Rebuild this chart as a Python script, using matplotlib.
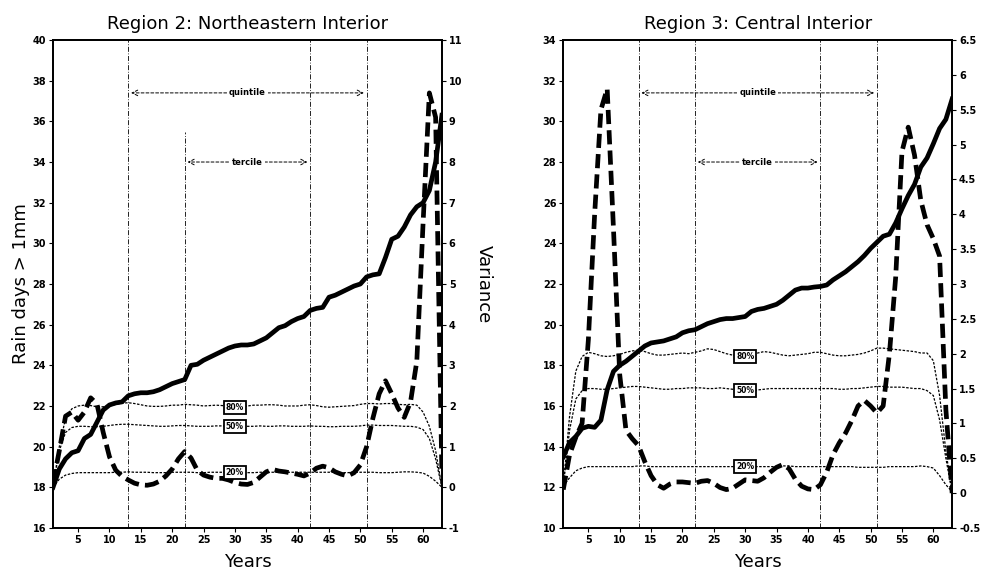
import numpy as np
import matplotlib.pyplot as plt
from matplotlib.ticker import FuncFormatter

# years of record
years = np.arange(1, 64)

# Region 2: Northeastern Interior
r2_days = [18.0, 18.9, 19.4, 19.7, 19.8, 20.4, 20.6, 21.2, 21.8, 22.05,
           22.15, 22.2, 22.5, 22.6, 22.65, 22.65, 22.7, 22.8, 22.95, 23.1,
           23.2, 23.3, 24.0, 24.05, 24.25, 24.4, 24.55, 24.7, 24.85, 24.95,
           25.0, 25.0, 25.05, 25.2, 25.35, 25.6, 25.85, 25.95, 26.15, 26.3,
           26.4, 26.7, 26.8, 26.85, 27.35, 27.45, 27.6, 27.75, 27.9, 28.0,
           28.35, 28.45, 28.5, 29.3, 30.2, 30.35, 30.8, 31.4, 31.8, 32.0,
           32.6, 34.0, 36.3]
r2_var = [0.1, 0.9, 1.75, 1.85, 1.65, 1.85, 2.2, 2.05, 1.35, 0.75,
          0.42, 0.27, 0.18, 0.1, 0.06, 0.05, 0.08, 0.15, 0.28, 0.45,
          0.7, 0.88, 0.72, 0.42, 0.3, 0.25, 0.22, 0.22, 0.18, 0.12,
          0.08, 0.07, 0.12, 0.25, 0.38, 0.44, 0.4, 0.38, 0.35, 0.32,
          0.28, 0.35, 0.47, 0.52, 0.48, 0.38, 0.32, 0.28, 0.36, 0.55,
          1.0, 1.7, 2.3, 2.62, 2.3, 1.95, 1.72, 2.1, 3.1, 6.5,
          9.7, 9.1, 0.3]
r2_p80 = [0.0, 1.0, 1.7, 1.93, 2.0, 2.02, 2.01, 1.98, 1.98, 2.0,
          2.04, 2.07, 2.08, 2.06, 2.03, 2.0, 1.99, 1.99, 2.0, 2.02,
          2.02, 2.04, 2.03, 2.02, 2.0, 2.01, 2.02, 2.01, 1.98, 1.97,
          1.97, 2.0, 2.02, 2.02, 2.03, 2.03, 2.02, 2.0, 2.0, 2.0,
          2.02, 2.03, 2.01, 1.98, 1.97, 1.98, 1.99, 2.0, 2.01, 2.04,
          2.06, 2.06, 2.05, 2.06, 2.06, 2.04, 2.03, 2.04, 2.02, 1.85,
          1.5, 0.9, 0.0]
r2_p50 = [0.0, 0.9, 1.35, 1.47, 1.5, 1.5, 1.49, 1.49, 1.5, 1.52,
          1.54, 1.55, 1.55, 1.54, 1.53, 1.52, 1.51, 1.5, 1.5, 1.51,
          1.52, 1.52, 1.51, 1.5, 1.5, 1.5, 1.51, 1.51, 1.5, 1.49,
          1.49, 1.5, 1.5, 1.51, 1.5, 1.5, 1.51, 1.51, 1.5, 1.5,
          1.5, 1.51, 1.5, 1.5, 1.49, 1.49, 1.5, 1.5, 1.5, 1.51,
          1.53, 1.53, 1.52, 1.52, 1.52, 1.51, 1.5, 1.5, 1.48, 1.42,
          1.2, 0.7, 0.0]
r2_p20 = [0.0, 0.2, 0.3, 0.34, 0.36, 0.36, 0.36, 0.36, 0.36, 0.36,
          0.37, 0.37, 0.38, 0.37, 0.37, 0.37, 0.36, 0.36, 0.36, 0.37,
          0.37, 0.37, 0.37, 0.36, 0.36, 0.37, 0.37, 0.37, 0.37, 0.37,
          0.36, 0.36, 0.36, 0.37, 0.37, 0.37, 0.37, 0.37, 0.37, 0.37,
          0.37, 0.37, 0.37, 0.37, 0.37, 0.37, 0.36, 0.36, 0.37, 0.37,
          0.37, 0.37, 0.36, 0.36, 0.36, 0.37, 0.38, 0.38, 0.37, 0.35,
          0.27, 0.15, 0.0]

# Region 3: Central Interior
r3_days = [13.5, 14.2, 14.5, 14.9, 15.0, 14.95, 15.3, 16.8, 17.7, 18.0,
           18.2, 18.45, 18.7, 18.95, 19.1, 19.15, 19.2, 19.3, 19.4, 19.6,
           19.7, 19.75, 19.9, 20.05, 20.15, 20.25, 20.3, 20.3, 20.35, 20.4,
           20.65, 20.75, 20.8, 20.9, 21.0, 21.2, 21.45, 21.7, 21.8, 21.8,
           21.85, 21.88, 21.95, 22.2, 22.4, 22.6, 22.85, 23.1, 23.4, 23.75,
           24.05, 24.35, 24.45, 25.0, 25.7, 26.35, 26.9, 27.75, 28.2, 28.9,
           29.65, 30.1, 31.1]
r3_var = [0.05, 0.55, 0.8, 1.0, 2.2, 4.0, 5.5, 5.8, 3.8, 1.7,
          0.9, 0.78, 0.68, 0.45, 0.25, 0.12, 0.07, 0.13, 0.16, 0.16,
          0.15, 0.14, 0.17, 0.18, 0.14, 0.08, 0.05, 0.07, 0.13, 0.19,
          0.18, 0.17, 0.22, 0.3, 0.37, 0.41, 0.35, 0.2, 0.1, 0.06,
          0.05, 0.12, 0.3, 0.55, 0.72, 0.86, 1.04, 1.25, 1.33, 1.25,
          1.15, 1.25, 2.0, 3.1, 4.9, 5.25, 4.85, 4.2, 3.85, 3.65,
          3.4, 1.2, 0.0]
r3_p80 = [0.1, 1.1, 1.75, 1.96, 2.02, 2.0, 1.97, 1.96, 1.97, 1.99,
          2.02, 2.04, 2.05, 2.03, 2.0, 1.98, 1.98, 1.99, 2.0, 2.01,
          2.0, 2.02, 2.04, 2.07, 2.06, 2.03, 2.0, 1.98, 1.97, 1.96,
          1.98, 2.01, 2.03, 2.02, 2.0, 1.98, 1.97, 1.98, 1.99, 2.0,
          2.02, 2.02, 2.0, 1.98, 1.97, 1.97, 1.98, 1.99, 2.01, 2.04,
          2.08, 2.08, 2.07, 2.06, 2.05, 2.04, 2.03, 2.01, 2.01, 1.9,
          1.4, 0.6, 0.02]
r3_p50 = [0.1, 0.9, 1.35, 1.47, 1.5, 1.5, 1.49, 1.49, 1.5, 1.51,
          1.52, 1.53, 1.53, 1.52, 1.51, 1.5, 1.49, 1.49, 1.5, 1.5,
          1.51, 1.51, 1.51, 1.5, 1.5, 1.51, 1.5, 1.49, 1.48, 1.47,
          1.47, 1.48, 1.49, 1.5, 1.5, 1.5, 1.5, 1.5, 1.5, 1.5,
          1.5, 1.5, 1.5, 1.5, 1.49, 1.49, 1.5, 1.5, 1.51, 1.52,
          1.53, 1.53, 1.52, 1.52, 1.52, 1.51, 1.5, 1.5, 1.47, 1.4,
          1.05, 0.5, 0.0]
r3_p20 = [0.1, 0.22, 0.32, 0.36, 0.38, 0.38, 0.38, 0.38, 0.38, 0.38,
          0.38, 0.38, 0.39, 0.39, 0.38, 0.38, 0.38, 0.38, 0.38, 0.38,
          0.38, 0.38, 0.38, 0.38, 0.38, 0.38, 0.38, 0.38, 0.38, 0.38,
          0.38, 0.38, 0.38, 0.38, 0.38, 0.39, 0.39, 0.38, 0.38, 0.38,
          0.38, 0.38, 0.38, 0.38, 0.38, 0.38, 0.38, 0.37, 0.37, 0.37,
          0.37, 0.37, 0.38, 0.38, 0.38, 0.38, 0.38, 0.39, 0.38, 0.36,
          0.25, 0.12, 0.02]

# quintile and tercile boundaries (years)
quintile_bounds = [13, 51]
tercile_bounds = [22, 42]
pct_names = ['80%', '50%', '20%']
label_year = 30

panels = [
    dict(title='Region 2: Northeastern Interior', days=r2_days, var=r2_var,
         pcts=[r2_p80, r2_p50, r2_p20], ylim=(16, 40), ystep=2,
         vlim=(-1, 11), vstep=1, q_y=37.4, t_y=34.0, tercile_top=35.5,
         left=0.054, labels=True),
    dict(title='Region 3: Central Interior', days=r3_days, var=r3_var,
         pcts=[r3_p80, r3_p50, r3_p20], ylim=(10, 34), ystep=2,
         vlim=(-0.5, 6.5), vstep=0.5, q_y=31.4, t_y=28.0, tercile_top=34,
         left=0.5736, labels=False),
]

fig = plt.figure(figsize=(9.82, 5.72), dpi=100)
fmt = FuncFormatter(lambda v, p: '%g' % v)

for p in panels:
    ax = fig.add_axes([p['left'], 0.077, 0.396, 0.853])
    ax2 = ax.twinx()

    # boundary lines
    for x in quintile_bounds + tercile_bounds:
        top = p['tercile_top'] if x == tercile_bounds[0] else p['ylim'][1]
        ax.vlines(x, p['ylim'][0], top, color='black', lw=0.6,
                  linestyles=(0, (6, 2, 1, 2)))

    ax.annotate('', xy=(quintile_bounds[0], p['q_y']), xytext=(quintile_bounds[1], p['q_y']),
                arrowprops=dict(arrowstyle='<->', ls=(0, (3, 2)), lw=0.7, color='black'))
    ax.text(np.mean(quintile_bounds), p['q_y'], 'quintile', ha='center', va='center',
            fontsize=6, fontweight='bold', bbox=dict(fc='white', ec='none', pad=1.5))
    ax.annotate('', xy=(tercile_bounds[0], p['t_y']), xytext=(tercile_bounds[1], p['t_y']),
                arrowprops=dict(arrowstyle='<->', ls=(0, (3, 2)), lw=0.7, color='black'))
    ax.text(np.mean(tercile_bounds), p['t_y'], 'tercile', ha='center', va='center',
            fontsize=6, fontweight='bold', bbox=dict(fc='white', ec='none', pad=1.5))

    # sorted rain days
    ax.plot(years, p['days'], color='black', lw=3.4, solid_joinstyle='round')

    # percentile curves and variance on the right axis
    for vals, name in zip(p['pcts'], pct_names):
        ax2.plot(years, vals, color='black', lw=0.9, ls=(0, (2, 1.2)))
        ax2.text(label_year, vals[label_year - 1], name, ha='center', va='center',
                 fontsize=5.5, fontweight='bold',
                 bbox=dict(boxstyle='square,pad=0.25', fc='white', ec='black', lw=1.3))
    ax2.plot(years, p['var'], color='black', lw=3.4, dashes=(3, 1.3))

    ax.set_xlim(1, 63)
    ax.set_ylim(*p['ylim'])
    ax2.set_ylim(*p['vlim'])
    ax.set_xticks(np.arange(5, 61, 5))
    ax.set_yticks(np.arange(p['ylim'][0], p['ylim'][1] + 0.1, p['ystep']))
    ax2.set_yticks(np.arange(p['vlim'][0], p['vlim'][1] + 0.01, p['vstep']))
    ax2.yaxis.set_major_formatter(fmt)

    for a in (ax, ax2):
        a.tick_params(direction='out', length=3, width=0.8, labelsize=7, pad=2)
        for lab in a.get_xticklabels() + a.get_yticklabels():
            lab.set_fontweight('bold')
        for s in a.spines.values():
            s.set_linewidth(1.3)

    ax.set_title(p['title'], fontsize=13, pad=8)
    ax.set_xlabel('Years', fontsize=13, labelpad=6)
    if p['labels']:
        ax.set_ylabel('Rain days > 1mm', fontsize=13, labelpad=2)
        ax2.set_ylabel('Variance', fontsize=13, rotation=270, labelpad=22)

fig.savefig('out.png', dpi=100)
